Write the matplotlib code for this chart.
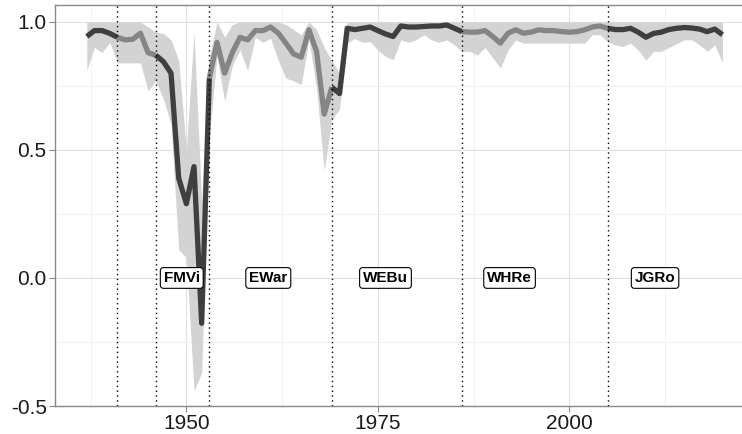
import matplotlib
matplotlib.use("Agg")
import matplotlib.pyplot as plt
import numpy as np

plt.rcParams["font.family"] = ["Liberation Sans", "DejaVu Sans"]

years = list(range(1937, 2021))

estimate = [
    0.943, 0.966, 0.966, 0.955, 0.940, 0.930, 0.932, 0.956, 0.880, 0.870,  # 1937-1946
    0.845, 0.800, 0.390, 0.290, 0.435, -0.177, 0.780, 0.920, 0.800, 0.880,  # 1947-1956
    0.940, 0.930, 0.966, 0.966, 0.980, 0.956, 0.917, 0.875, 0.862, 0.969,  # 1957-1966
    0.885, 0.640, 0.745, 0.720, 0.975, 0.970, 0.975, 0.980, 0.966, 0.953,  # 1967-1976
    0.943, 0.984, 0.980, 0.980, 0.982, 0.984, 0.984, 0.988, 0.975, 0.962,  # 1977-1986
    0.960, 0.960, 0.966, 0.943, 0.917, 0.956, 0.969, 0.956, 0.960, 0.969,  # 1987-1996
    0.966, 0.966, 0.962, 0.960, 0.962, 0.969, 0.980, 0.984, 0.975, 0.970,  # 1997-2006
    0.970, 0.975, 0.960, 0.940, 0.955, 0.960, 0.970, 0.975, 0.978, 0.976,  # 2007-2016
    0.972, 0.962, 0.972, 0.950,                                            # 2017-2020
]

lower = [
    0.81, 0.90, 0.88, 0.92, 0.84, 0.84, 0.84, 0.84, 0.73, 0.77,
    0.70, 0.60, 0.11, 0.08, -0.44, -0.37, 0.55, 0.865, 0.69, 0.83,
    0.89, 0.81, 0.94, 0.92, 0.936, 0.85, 0.78, 0.77, 0.755, 0.93,
    0.74, 0.42, 0.62, 0.66, 0.917, 0.935, 0.92, 0.923, 0.89, 0.865,
    0.852, 0.93, 0.92, 0.93, 0.95, 0.93, 0.92, 0.93, 0.91, 0.885,
    0.885, 0.87, 0.90, 0.86, 0.82, 0.89, 0.93, 0.917, 0.917, 0.917,
    0.917, 0.917, 0.917, 0.917, 0.917, 0.917, 0.95, 0.95, 0.923, 0.91,
    0.904, 0.917, 0.89, 0.85, 0.885, 0.885, 0.90, 0.915, 0.93, 0.93,
    0.91, 0.885, 0.91, 0.84,
]

upper = [
    1.0, 1.0, 1.0, 1.0, 1.0, 1.0, 1.0, 1.0, 0.98, 0.96,
    0.955, 0.93, 0.85, 0.50, 0.96, 0.30, 0.86, 1.0, 0.94, 0.99,
    1.0, 1.0, 1.0, 1.0, 1.0, 1.0, 0.99, 0.97, 0.95, 1.0,
    0.97, 0.90, 0.85, 0.80, 1.0, 1.0, 1.0, 1.0, 1.0, 1.0,
    1.0, 1.0, 1.0, 1.0, 1.0, 1.0, 1.0, 1.0, 1.0, 1.0,
    1.0, 1.0, 1.0, 1.0, 1.0, 1.0, 1.0, 1.0, 1.0, 1.0,
    1.0, 1.0, 1.0, 1.0, 1.0, 1.0, 1.0, 1.0, 1.0, 1.0,
    1.0, 1.0, 1.0, 1.0, 1.0, 1.0, 1.0, 1.0, 1.0, 1.0,
    1.0, 1.0, 1.0, 1.0,
]

# period boundaries (line colour alternates between them)
breaks = [1937, 1941, 1946, 1953, 1969, 1986, 2005, 2020]
cutoffs = [1941, 1946, 1953, 1969, 1986, 2005]

period_names = ["FMVi", "EWar", "WEBu", "WHRe", "JGRo"]
period_label_x = [1949.4, 1960.7, 1976.0, 1992.2, 2011.2]

fig = plt.figure(figsize=(7.42, 4.34), dpi=100)
ax = fig.add_axes([55 / 742, 28 / 434, 687 / 742, 401 / 434])

yrs = np.array(years)
est = np.array(estimate)

ax.fill_between(yrs, lower, upper, color="#d3d3d3", lw=0, zorder=1)

line_colors = ["#3f3f3f", "#858585"]
for i in range(len(breaks) - 1):
    m = (yrs >= breaks[i]) & (yrs <= breaks[i + 1])
    ax.plot(yrs[m], est[m], color=line_colors[i % 2], lw=3.8,
            solid_joinstyle="round", solid_capstyle="butt", zorder=3)

for c in cutoffs:
    ax.axvline(c, color="black", lw=1.0, ls=(0, (1, 2.5)), zorder=4)

for name, x in zip(period_names, period_label_x):
    ax.text(x, 0.0, name, ha="center", va="center", fontsize=11,
            fontweight="bold", zorder=5,
            bbox=dict(boxstyle="round,pad=0.22,rounding_size=0.2",
                      fc="white", ec="black", lw=0.8))

ax.set_xlim(1932.85, 2022.55)
ax.set_ylim(-0.5, 1.066)

ax.set_xticks([1950, 1975, 2000])
ax.set_xticks([1937.5, 1962.5, 1987.5, 2012.5], minor=True)
ax.set_yticks([-0.5, 0.0, 0.5, 1.0])
ax.set_yticklabels(["-0.5", "0.0", "0.5", "1.0"])
ax.set_yticks([-0.25, 0.25, 0.75], minor=True)

ax.grid(True, which="major", color="#e0e0e0", lw=0.8)
ax.grid(True, which="minor", color="#efefef", lw=0.6)
ax.set_axisbelow(True)

ax.tick_params(which="major", labelsize=15, length=4, color="#888888",
               labelcolor="#1a1a1a", pad=2)
ax.tick_params(which="minor", length=0)

for side in ["left", "bottom", "top"]:
    ax.spines[side].set_color("#888888")
    ax.spines[side].set_linewidth(1.0)
ax.spines["right"].set_visible(False)

fig.savefig("out.png", dpi=100)
